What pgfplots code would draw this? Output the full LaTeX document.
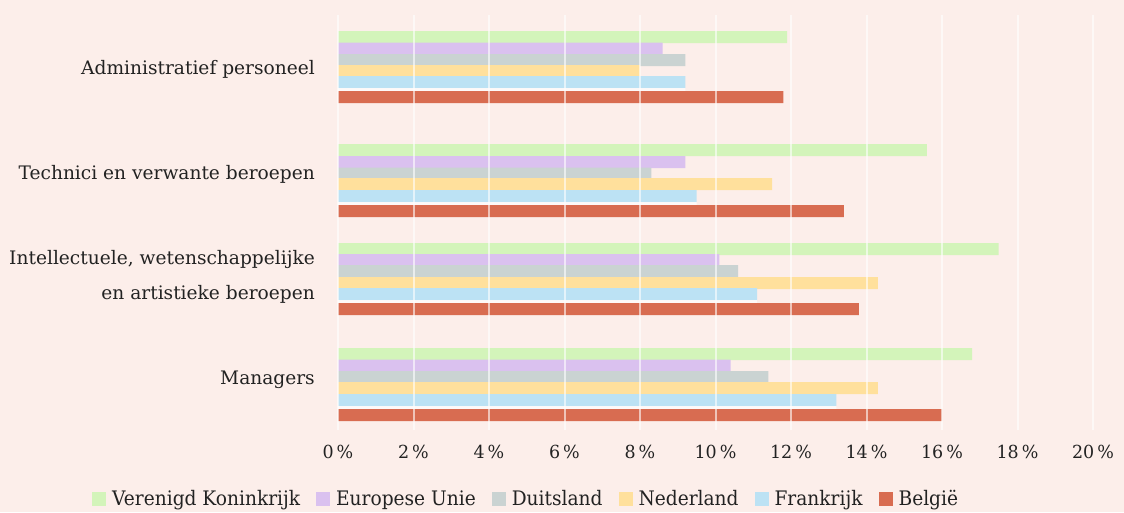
\documentclass[border=0pt]{standalone}
\usepackage{fontspec}
\setmainfont{DejaVu Serif}
\newfontfamily\condfont[FakeStretch=0.93]{DejaVu Serif}
\newfontfamily\tickfont[FakeStretch=0.97]{DejaVu Serif}
\usepackage{pgfplots}
\pgfplotsset{compat=1.18}
\definecolor{bgc}{HTML}{FCEEEA}
\definecolor{cVK}{HTML}{D3F4BA}
\definecolor{cEU}{HTML}{DAC1EF}
\definecolor{cDE}{HTML}{CAD3D2}
\definecolor{cNL}{HTML}{FFE09C}
\definecolor{cFR}{HTML}{BCE2F4}
\definecolor{cBE}{HTML}{D86C51}
\definecolor{txt}{HTML}{222222}
\begin{document}
\begin{tikzpicture}
\fill[bgc] (0pt,0pt) rectangle (1124pt,512pt);
\begin{axis}[
  at={(338pt,82pt)}, anchor=south west,
  scale only axis, width=755pt, height=415pt,
  xmin=0, xmax=20, ymin=15, ymax=430, y dir=reverse,
  axis line style={draw=none},
  axis on top,
  xmajorgrids,
  major grid style={white, opacity=0.6, line width=2pt},
  major tick length=0pt,
  xtick={0,2,...,20},
  /pgf/number format/assume math mode=true,
  xticklabel={\pgfmathprintnumber{\tick}\,\%},
  xticklabel style={font=\tickfont\fontsize{18}{20}\selectfont, text=txt, inner sep=0pt, anchor=north, yshift=-15pt},
  ytick={69,174,276.5,380},
  yticklabels={Administratief personeel, Technici en verwante beroepen, {Intellectuele, wetenschappelijke\\en artistieke beroepen}, Managers},
  yticklabel style={font=\fontsize{18.6}{35}\selectfont, text=txt, align=right, inner sep=0pt, anchor=east, xshift=-23pt},
  xbar, bar shift=0pt, bar width=12pt,
  legend columns=6,
  legend style={at={(-0.3258,-0.1663)}, anchor=west, draw=none, fill=none, inner sep=0pt,
    font=\condfont\fontsize{20}{22}\selectfont, text=txt,
    /tikz/every even column/.append style={column sep=14pt}},
  legend image code/.code={\fill[#1] (0pt,-7pt) rectangle (14pt,7pt); \path (18pt,0pt);},
]
\addplot[fill=cVK, draw=none] coordinates {(11.9,37) (15.6,150) (17.5,249) (16.8,354)};
\addlegendentry{Verenigd Koninkrijk}
\addplot[fill=cEU, draw=none] coordinates {(8.6,48.5) (9.2,162) (10.1,260) (10.4,365.5)};
\addlegendentry{Europese Unie}
\addplot[fill=cDE, draw=none] coordinates {(9.2,60) (8.3,173.5) (10.6,271) (11.4,377)};
\addlegendentry{Duitsland}
\addplot[fill=cNL, draw=none] coordinates {(8.0,71) (11.5,184) (14.3,283) (14.3,388)};
\addlegendentry{Nederland}
\addplot[fill=cFR, draw=none] coordinates {(9.2,82) (9.5,196) (11.1,294) (13.2,400)};
\addlegendentry{Frankrijk}
\addplot[fill=white, fill opacity=0.7, draw=none, bar width=3pt, forget plot] coordinates {(9.2,89.5) (9.5,203.5) (11.1,301.5) (13.2,407.5)};
\addplot[fill=cBE, draw=none] coordinates {(11.8,97) (13.4,211) (13.8,309) (16.0,415)};
\addlegendentry{België}
\end{axis}
\end{tikzpicture}
\end{document}
